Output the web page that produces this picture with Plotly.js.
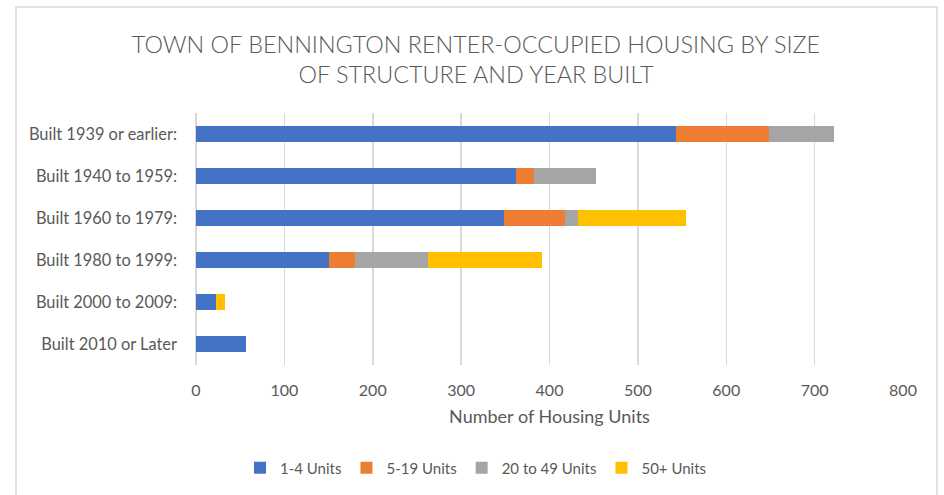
<!DOCTYPE html>
<html>
<head>
<meta charset="utf-8">
<script src="https://cdn.plot.ly/plotly-3.0.1.min.js"></script>
<style>
html,body{margin:0;padding:0;background:#fff;}
#chart{width:944px;height:495px;}
</style>
</head>
<body>
<div id="chart"></div>
<script>
const categories = ["Built 1939 or earlier:", "Built 1940 to 1959:", "Built 1960 to 1979:", "Built 1980 to 1999:", "Built 2000 to 2009:", "Built 2010 or Later"];
const units1to4 = [543, 362, 349, 150, 23, 57];
const units5to19 = [105, 21, 68, 30, 0, 0];
const units20to49 = [74, 70, 15, 82, 0, 0];
const units50plus = [0, 0, 123, 130, 10, 0];
const seriesNames = ["1-4 Units", "5-19 Units", "20 to 49 Units", "50+ Units"];
const colors = ["#4472C4", "#ED7D31", "#A5A5A5", "#FFC000"];
const xTicks = [0, 100, 200, 300, 400, 500, 600, 700, 800];

const FONT = "Lato, 'Open Sans', sans-serif";
const TXT = "#595959";
const allSeries = [units1to4, units5to19, units20to49, units50plus];

const traces = allSeries.map((vals, i) => ({
  type: "bar",
  orientation: "h",
  name: seriesNames[i],
  y: categories,
  x: vals,
  marker: {color: colors[i], line: {width: 0}},
  hoverinfo: "x+name"
}));

const layout = {
  width: 944,
  height: 495,
  margin: {l: 196, r: 41, t: 113, b: 130, autoexpand: false},
  paper_bgcolor: "#ffffff",
  plot_bgcolor: "#ffffff",
  barmode: "stack",
  bargap: 0.6,
  font: {family: FONT, color: TXT, size: 15},
  title: {
    text: "TOWN OF BENNINGTON RENTER-OCCUPIED HOUSING BY SIZE<br>OF STRUCTURE AND YEAR BUILT",
    font: {family: FONT, size: 23.4, color: TXT, weight: 300},
    x: 476/944, xanchor: "center",
    y: 1 - 53/495, yanchor: "middle"
  },
  xaxis: {
    range: [0, 800],
    tickvals: xTicks,
    ticktext: xTicks.map(String),
    tickangle: 0,
    automargin: false,
    showgrid: true,
    gridcolor: "#d9d9d9",
    gridwidth: 1.5,
    zeroline: true,
    zerolinecolor: "#d9d9d9",
    zerolinewidth: 1.5,
    showline: false,
    ticks: "",
    ticklabelstandoff: 14,
    tickfont: {family: FONT, size: 16, color: TXT},
    title: {text: "Number of Housing Units", font: {family: FONT, size: 18, color: TXT}, standoff: 12},
    fixedrange: true
  },
  yaxis: {
    type: "category",
    autorange: "reversed",
    automargin: false,
    showgrid: false,
    zeroline: false,
    showline: false,
    ticks: "",
    ticklabelstandoff: 18,
    tickfont: {family: FONT, size: 16.4, color: TXT},
    fixedrange: true
  },
  legend: {
    orientation: "h",
    x: (476 - 196)/707, xanchor: "center",
    y: (365 - 468)/252, yanchor: "middle",
    font: {family: FONT, size: 15, color: TXT},
    traceorder: "normal",
    itemwidth: 30
  },
  shapes: [{
    type: "rect", xref: "paper", yref: "paper",
    x0: (16-196)/707, x1: (937-196)/707,
    y0: (365-520)/252, y1: (365-7)/252,
    line: {color: "#d9d9d9", width: 1.5},
    fillcolor: "rgba(0,0,0,0)",
    layer: "below"
  }]
};

Plotly.newPlot("chart", traces, layout, {displayModeBar: false, staticPlot: true});
</script>
</body>
</html>
